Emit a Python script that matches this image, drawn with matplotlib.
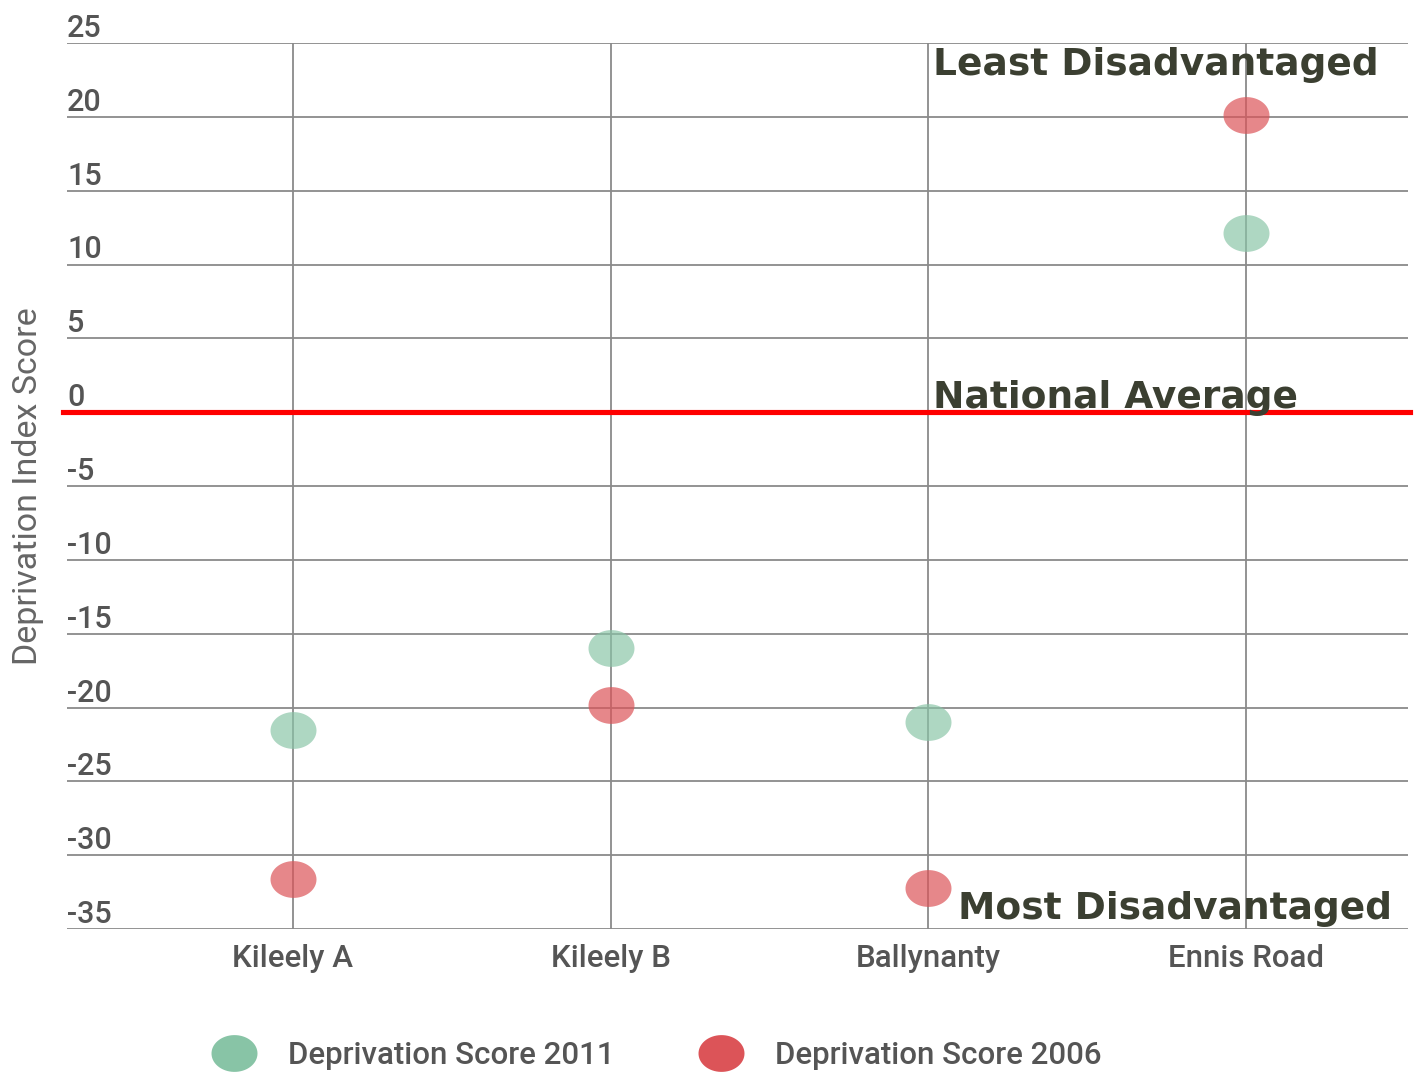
import numpy as np
import matplotlib
matplotlib.use("Agg")
import matplotlib.pyplot as plt
from matplotlib.path import Path
from matplotlib.lines import Line2D

categories = ["Kileely A", "Kileely B", "Ballynanty", "Ennis Road"]
score_2011 = [-21.5, -16.0, -21.0, 12.1]
score_2006 = [-31.6, -19.8, -32.2, 20.1]
y_ticks = [25, 20, 15, 10, 5, 0, -5, -10, -15, -20, -25, -30, -35]
y_tick_labels = [str(v) for v in y_ticks]
series_names = ["Deprivation Score 2011", "Deprivation Score 2006"]
national_average = 0

green = "#88c4a6"
red = "#dc5458"
text_gray = "#555555"
annot_color = "#3b3f31"

# ellipse marker (wider than tall)
t = np.linspace(0, 2 * np.pi, 64)
ellipse = Path(np.column_stack([np.cos(t), 0.8 * np.sin(t)]))

fig = plt.figure(figsize=(14.15, 10.75), dpi=100)
ax = fig.add_axes([67 / 1415, 146 / 1075, 1341 / 1415, 886 / 1075])

x = np.arange(len(categories))
ms = 46 * 0.72  # points
ax.scatter(x, score_2011, marker=ellipse, s=ms ** 2, color=green, alpha=0.68,
           linewidths=0, zorder=3)
ax.scatter(x, score_2006, marker=ellipse, s=ms ** 2, color=red, alpha=0.7,
           linewidths=0, zorder=3)

ax.set_xlim(-0.711, 3.509)
ax.set_ylim(-35, 25)

ax.set_xticks(x, categories)
ax.set_yticks(y_ticks, y_tick_labels)
for s in ax.spines.values():
    s.set_visible(False)
ax.grid(True, color="#8a8a8a", linewidth=1.3, zorder=1)
ax.set_axisbelow(True)
ax.tick_params(axis="both", length=0, colors=text_gray)
ax.tick_params(axis="y", pad=0, labelsize=22)
ax.tick_params(axis="x", pad=11, labelsize=22.5)
for lab in ax.get_yticklabels():
    lab.set_ha("left")
    lab.set_va("bottom")
    lab.set_fontfamily("Roboto")
    lab.set_fontweight("medium")
for lab in ax.get_xticklabels():
    lab.set_fontfamily("Roboto")
    lab.set_fontweight("medium")

ax.set_ylabel("Deprivation Index Score", fontsize=24.5, color="#666666",
              family="Roboto", fontweight="normal")
ax.yaxis.set_label_coords(-0.017, 0.5)

# national average line
ax.axhline(national_average, xmin=-0.003, xmax=1.0015, color="#ff0000",
           linewidth=3.7, zorder=4, clip_on=False)

annot_kw = dict(fontsize=27, fontweight="bold", color=annot_color,
                family="DejaVu Sans", zorder=5, ha="left", va="baseline")
ax.text(2.014, 22.8, "Least Disadvantaged", **annot_kw)
ax.text(2.014, 0.27, "National Average", **annot_kw)
ax.text(2.093, -34.3, "Most Disadvantaged", **annot_kw)

fs_leg = 22.5
fs_px = fs_leg * 100 / 72
handles = [
    Line2D([], [], linestyle="none", marker=ellipse, markersize=46 * 0.72,
           markerfacecolor=green, markeredgewidth=0),
    Line2D([], [], linestyle="none", marker=ellipse, markersize=46 * 0.72,
           markerfacecolor=red, markeredgewidth=0),
]
leg = fig.legend(handles, series_names, loc="center left",
                 bbox_to_anchor=(209 / 1415, 20 / 1075), ncol=2, frameon=False,
                 prop={"family": "Roboto", "size": fs_leg, "weight": "medium"},
                 handlelength=1.6, handletextpad=(54 / fs_px) - 0.8,
                 columnspacing=2.6, borderpad=0, borderaxespad=0)
for txt in leg.get_texts():
    txt.set_color(text_gray)

fig.savefig("out.png", dpi=100)
